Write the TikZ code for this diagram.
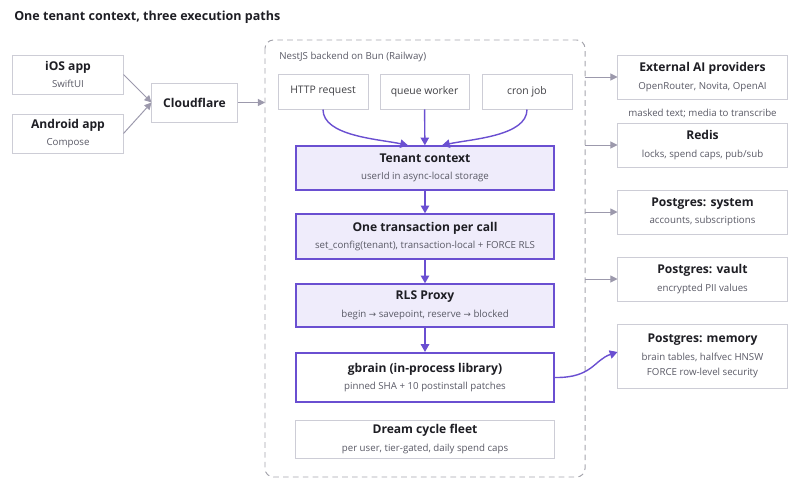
\documentclass[tikz,border=0pt]{standalone}
\usepackage{fontspec}
\setmainfont{Open Sans}
\newfontfamily\arrowfont{DejaVu Sans}
\usetikzlibrary{arrows.meta, positioning}
\definecolor{ink}{HTML}{1E1E24}
\definecolor{subgray}{HTML}{5A5A66}
\definecolor{boxgray}{HTML}{CDCDD6}
\definecolor{arrowgray}{HTML}{9C99AC}
\definecolor{dashgray}{HTML}{A4A4AC}
\definecolor{accent}{HTML}{6A4FD1}
\definecolor{lavender}{HTML}{EFECFB}
\tikzset{
    auto, node distance =0.6 cm and 0.6 cm,% boxes are placed at pixel coordinates below
    plainbox/.style ={draw=boxgray, line width=0.7pt, fill=white, text=ink, align=center, inner sep=0pt},
    ctxbox/.style ={draw=accent, line width=1pt, fill=lavender, text=ink, align=center, inner sep=0pt, minimum width=6.45cm},
    libbox/.style ={draw=accent, line width=1.5pt, fill=white, text=ink, align=center, inner sep=0pt, minimum width=6.45cm},
    storebox/.style ={plainbox, minimum width=4.225cm, minimum height=1.1cm},
    grayflow/.style ={arrowgray, line width=0.7pt, -{Triangle[length=5pt, width=5pt]}},
    purpleflow/.style ={accent, line width=1pt, -{Triangle[length=5.5pt, width=6pt]}},
}
\newcommand{\boxlabel}[2]{{\fontsize{8.6}{11}\selectfont\bfseries #1}\\[0.5pt]{\fontsize{6.9}{9}\selectfont\color{subgray}#2}}
\newcommand{\subline}[1]{{\fontsize{6.9}{9}\selectfont\color{subgray}#1}}
\newcommand{\toarrow}{{\arrowfont\fontsize{6.2}{9}\selectfont →}}

\begin{document}
\begin{tikzpicture}[x=0.025cm, y=-0.025cm]
    \useasboundingbox (0,0) rectangle (800,499);
    % title
    \node[anchor=west, text=ink, inner sep=0pt] (title) at (14,17) {\fontsize{8.9}{11}\selectfont\bfseries One tenant context, three execution paths};

    % clients
    \node[plainbox, minimum width=2.75cm, minimum height=0.975cm] (ios) at (68,74.5) {\boxlabel{iOS app}{SwiftUI}};
    \node[plainbox, minimum width=2.75cm, minimum height=0.975cm] (android) at (68,133.5) {\boxlabel{Android app}{Compose}};
    \node[plainbox, minimum width=2.125cm, minimum height=0.975cm] (cloudflare) at (194.5,102.5) {\fontsize{8.6}{11}\selectfont\bfseries Cloudflare};

    % backend container
    \draw[dashgray, line width=0.7pt, dash pattern=on 4pt off 3pt, rounded corners=6pt] (265,40) rectangle (585,477);
    \node[anchor=west, inner sep=0pt] (backend) at (279,57) {\subline{NestJS backend on Bun (Railway)}};
    \coordinate (inlet) at (265,102.5);

    % entry points
    \node[plainbox, minimum width=2.25cm, minimum height=0.875cm] (http) at (323,91.5) {\fontsize{7.4}{9}\selectfont\color{ink!85}HTTP request};
    \node[plainbox, minimum width=2.225cm, minimum height=0.875cm] (queue) at (424.5,91.5) {\fontsize{7.4}{9}\selectfont\color{ink!85}queue worker};
    \node[plainbox, minimum width=2.25cm, minimum height=0.875cm] (cron) at (527,91.5) {\fontsize{7.4}{9}\selectfont\color{ink!85}cron job};

    % tenant pipeline
    \node[ctxbox, minimum height=1.1cm] (tenant) at (425,168) {\boxlabel{Tenant context}{userId in async-local storage}};
    \node[ctxbox, minimum height=1.125cm] (txn) at (425,236.5) {\boxlabel{One transaction per call}{set\_config(tenant), transaction-local + FORCE RLS}};
    \node[ctxbox, minimum height=1.075cm] (rls) at (425,305.5) {\boxlabel{RLS Proxy}{begin \toarrow{} savepoint, reserve \toarrow{} blocked}};
    \node[libbox, minimum height=1.225cm] (gbrain) at (425,377.5) {\boxlabel{gbrain (in-process library)}{pinned SHA + 10 postinstall patches}};
    \node[plainbox, minimum width=6.45cm, minimum height=0.95cm] (dream) at (425,439) {\boxlabel{Dream cycle fleet}{per user, tier-gated, daily spend caps}};

    % external stores
    \node[storebox] (ai) at (702.5,77) {\boxlabel{External AI providers}{OpenRouter, Novita, OpenAI}};
    \node[inner sep=0pt] (masked) at (702.5,113) {\subline{masked text; media to transcribe}};
    \node[storebox] (redis) at (702.5,145) {\boxlabel{Redis}{locks, spend caps, pub/sub}};
    \node[storebox] (pgsystem) at (702.5,212) {\boxlabel{Postgres: system}{accounts, subscriptions}};
    \node[storebox] (pgvault) at (702.5,279) {\boxlabel{Postgres: vault}{encrypted PII values}};
    \node[storebox, minimum height=1.6cm] (pgmemory) at (702.5,356) {\boxlabel{Postgres: memory}{brain tables, halfvec HNSW}\\[-1pt]\subline{FORCE row-level security}};

    \coordinate (out1) at (585,77);
    \coordinate (out2) at (585,145);
    \coordinate (out3) at (585,212);
    \coordinate (out4) at (585,279);

    % connectors
    \draw[grayflow] (ios.east) -- (cloudflare.west);
    \draw[grayflow] (android.east) -- (cloudflare.west);
    \draw[grayflow] (cloudflare) -- (inlet);
    \draw[grayflow] (out1) -- (ai);
    \draw[grayflow] (out2) -- (redis);
    \draw[grayflow] (out3) -- (pgsystem);
    \draw[grayflow] (out4) -- (pgvault);

    \draw[purpleflow] (http.south) .. controls (323,136) and (378,139) .. ([xshift=-0.425cm]tenant.north);
    \draw[purpleflow] (queue) -- (tenant);
    \draw[purpleflow] (cron.south) .. controls (527,136) and (472,139) .. ([xshift=0.425cm]tenant.north);
    \draw[purpleflow] (tenant) -- (txn);
    \draw[purpleflow] (txn) -- (rls);
    \draw[purpleflow] (rls) -- (gbrain);
    \draw[purpleflow] (gbrain.east) .. controls (592,378) and (594,360) .. ([yshift=0.1cm]pgmemory.west);
\end{tikzpicture}
\end{document}
